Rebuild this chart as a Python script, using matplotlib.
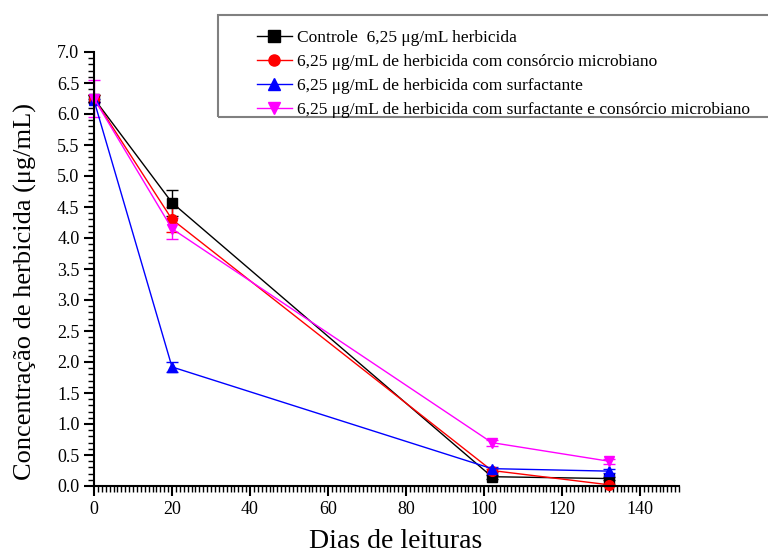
import numpy as np
import matplotlib
matplotlib.use("Agg")
import matplotlib.pyplot as plt
from matplotlib.ticker import MultipleLocator, FormatStrFormatter
from matplotlib.lines import Line2D
from matplotlib.patches import Rectangle

plt.rcParams['font.family'] = ['Liberation Serif', 'DejaVu Serif']

dias = [0, 20, 102, 132]

controle = [6.25, 4.57, 0.15, 0.12]
controle_err = [0.05, 0.21, 0.03, 0.03]

consorcio = [6.25, 4.30, 0.25, 0.02]
consorcio_err = [0.05, 0.20, 0.03, 0.02]

surfactante = [6.22, 1.92, 0.28, 0.24]
surfactante_err = [0.03, 0.08, 0.03, 0.03]

surf_consorcio = [6.25, 4.15, 0.70, 0.40]
surf_consorcio_err = [0.30, 0.17, 0.05, 0.04]

labels = [
    "Controle  6,25 \u03bcg/mL herbicida",
    "6,25 \u03bcg/mL de herbicida com consórcio microbiano",
    "6,25 \u03bcg/mL de herbicida com surfactante",
    "6,25 \u03bcg/mL de herbicida com surfactante e consórcio microbiano",
]

series = [
    (controle, controle_err, 'black', 's'),
    (consorcio, consorcio_err, 'red', 'o'),
    (surfactante, surfactante_err, 'blue', '^'),
    (surf_consorcio, surf_consorcio_err, 'magenta', 'v'),
]

W, H = 768, 555
fig = plt.figure(figsize=(W / 100, H / 100), dpi=100)
ax = fig.add_axes([94 / W, 1 - 486 / H, (679 - 94) / W, (486 - 52) / H])

handles = []
for vals, err, col, mk in series:
    h = ax.errorbar(dias, vals, yerr=err, color=col, marker=mk, markersize=7,
                    lw=1, capsize=4, elinewidth=1, capthick=1, clip_on=False)
    for art in [h.lines[0], *h.lines[1], *h.lines[2]]:
        art.set_clip_on(False)
    handles.append(Line2D([], [], color=col, marker=mk, markersize=8, lw=1))

ax.set_xlim(0, 150)
ax.set_ylim(0, 7.0)
ax.xaxis.set_major_locator(MultipleLocator(20))
ax.xaxis.set_minor_locator(MultipleLocator(1))
ax.yaxis.set_major_locator(MultipleLocator(0.5))
ax.yaxis.set_minor_locator(MultipleLocator(0.1))
ax.yaxis.set_major_formatter(FormatStrFormatter('%.1f'))

ax.spines['top'].set_visible(False)
ax.spines['right'].set_visible(False)
ax.spines['left'].set_linewidth(1.5)
ax.spines['bottom'].set_linewidth(1.5)
ax.tick_params(which='major', direction='out', length=7, width=1.5, labelsize=13)
ax.tick_params(which='minor', direction='out', length=4, width=1)

fig.text(396 / W, 1 / H, "Dias de leituras", fontsize=20,
         ha='center', va='bottom')
fig.text(25 / W, 1 - 291 / H, "Concentração de herbicida (\u03bcg/mL)",
         fontsize=19, rotation=90, ha='center', va='center')

# legend frame runs off the right edge, as in the original
fig.patches.append(Rectangle((218 / W, 1 - 117 / H), (W + 10 - 218) / W,
                             (117 - 15) / H, transform=fig.transFigure,
                             fill=False, edgecolor='gray', lw=1.5))
fig.legend(handles=handles, labels=labels, loc='upper left',
           bbox_to_anchor=(257 / W, 1 - 30 / H), fontsize=12.5,
           frameon=False, handlelength=2.0, borderpad=0,
           labelspacing=0.45, handletextpad=0.3, borderaxespad=0)

fig.savefig("out.png", dpi=100)
